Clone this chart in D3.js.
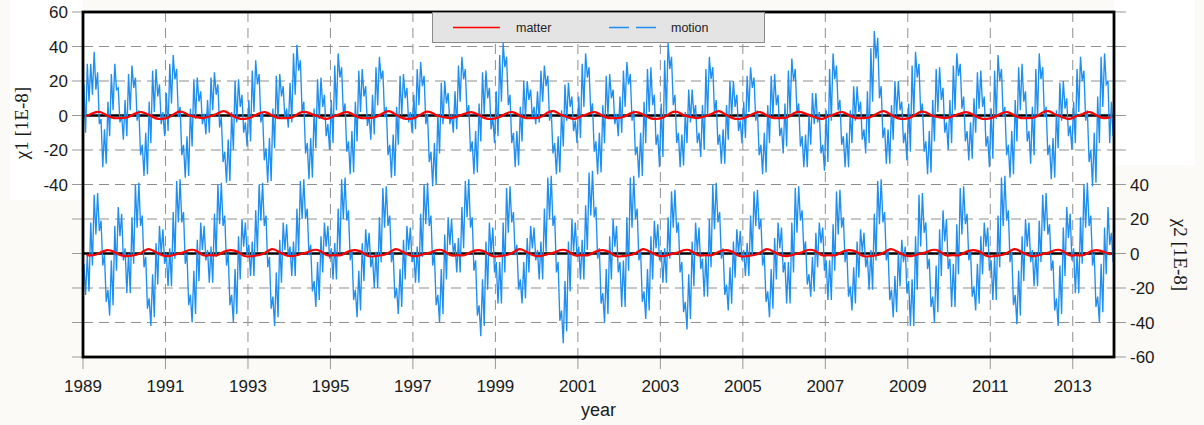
<!DOCTYPE html>
<html>
<head>
<meta charset="utf-8">
<script src="https://cdn.jsdelivr.net/npm/d3@7"></script>
<style>
  html, body { margin: 0; padding: 0; background: #fbfaf7; }
  svg { display: block; }
</style>
</head>
<body>
<svg id="chart" width="1204" height="425"></svg>
<script>
// monthly envelope of the "motion" series (max / min within each month), 1989-01 .. 2013-12
const chi1Hi = [
  18, 30, 30, 37, 25, -2, -8, 8, 24, 30, 16, 0,
  9, 24, 29, 22, 3, -17, -10, 8, 26, 27, 18, 2,
  13, 30, 35, 27, 5, -17, -12, 4, 21, 22, 14, 1,
  9, 22, 25, 18, -1, -21, -14, 2, 20, 21, 12, -4,
  9, 26, 32, 24, 2, -19, -13, 4, 23, 24, 17, 4,
  19, 36, 41, 32, 8, -16, -13, 4, 21, 22, 12, -5,
  9, 29, 36, 28, 7, -15, -9, 8, 26, 27, 17, 0,
  12, 28, 34, 26, 5, -17, -11, 5, 23, 24, 16, 2,
  12, 27, 31, 23, 1, -21, -16, 1, 19, 20, 13, 1,
  14, 29, 34, 27, 6, -15, -9, 7, 25, 26, 16, -1,
  14, 35, 42, 34, 12, -10, -9, 5, 20, 20, 15, 5,
  14, 26, 29, 23, 3, -16, -12, 3, 18, 19, 11, -3,
  11, 30, 36, 28, 7, -15, -10, 6, 23, 24, 15, 1,
  11, 26, 31, 24, 3, -18, -10, 8, 27, 28, 12, -11,
  7, 32, 42, 34, 12, -10, -11, 2, 15, 15, 6, -10,
  6, 27, 34, 28, 9, -11, -8, 6, 20, 20, 12, -3,
  8, 23, 28, 22, 3, -17, -10, 6, 23, 24, 12, -7,
  7, 26, 33, 27, 7, -12, -11, 1, 13, 13, 2, -17,
  3, 27, 36, 29, 9, -12, -10, 3, 17, 17, 8, -8,
  14, 39, 49, 45, 17, -7, -8, 6, 20, 20, 8, -10,
  7, 29, 37, 30, 7, -15, -9, 9, 27, 28, 16, -4,
  9, 29, 36, 30, 11, -9, -4, 10, 25, 26, 11, -12,
  4, 26, 35, 27, 5, -17, -9, 9, 28, 30, 14, -9,
  5, 27, 36, 28, 5, -17, -13, 3, 19, 20, 10, -6,
  8, 27, 34, 26, 3, -20, -10, 11, 34, 36, 20, 8
];
const chi1Lo = [
  -10, 8, 12, 15, -5, -30, -28, -12, 3, 15, -4, -14,
  -12, 3, 16, -3, -23, -35, -34, -16, 2, 11, -5, -12,
  -9, 7, 21, -1, -23, -36, -35, -18, -2, 8, -5, -11,
  -10, 3, 12, -7, -27, -39, -38, -20, -4, 5, -10, -18,
  -15, 2, 18, -4, -26, -39, -38, -19, -2, 11, -2, -7,
  -4, 12, 26, 2, -22, -37, -36, -19, -2, 5, -12, -20,
  -16, 3, 22, 1, -21, -34, -33, -15, 2, 11, -6, -14,
  -11, 6, 21, -1, -23, -36, -35, -17, 0, 10, -4, -10,
  -8, 6, 17, -5, -27, -41, -40, -22, -5, 7, -5, -10,
  -8, 8, 21, 0, -21, -34, -33, -15, 1, 10, -8, -16,
  -12, 8, 28, 6, -16, -30, -29, -15, -1, 9, -1, -5,
  -4, 8, 17, -3, -22, -34, -33, -18, -3, 5, -9, -16,
  -13, 5, 22, 1, -21, -34, -33, -16, 0, 10, -5, -12,
  -10, 5, 18, -3, -23, -36, -35, -16, 2, 6, -17, -30,
  -24, 1, 27, 6, -16, -30, -29, -16, -4, 0, -16, -24,
  -20, 0, 21, 2, -17, -28, -28, -14, 0, 5, -9, -16,
  -13, 2, 16, -3, -23, -34, -33, -16, 0, 6, -12, -22,
  -18, 1, 20, 1, -18, -30, -30, -17, -5, -4, -22, -32,
  -27, -3, 21, 3, -17, -30, -30, -16, -3, 2, -14, -22,
  -16, 8, 33, 10, -13, -28, -28, -14, 0, 3, -16, -26,
  -21, 0, 22, 1, -21, -34, -33, -15, 2, 9, -10, -20,
  -16, 3, 23, 4, -15, -26, -25, -10, 4, 5, -18, -30,
  -25, -2, 20, -1, -23, -36, -34, -15, 3, 8, -15, -28,
  -23, -1, 21, -1, -23, -37, -36, -19, -3, 4, -12, -20,
  -16, 2, 20, -3, -27, -41, -39, -16, 5, 18, -16, -12
];
const chi2Hi = [
  -6, -1, 18, 34, 35, 19, -1, -21, -4, 16, 27, 23,
  3, 0, 21, 40, 41, 22, -2, -26, -12, 6, 16, 14,
  0, 3, 24, 42, 43, 24, 0, -24, -10, 8, 18, 16,
  2, 4, 23, 40, 41, 22, 0, -24, -9, 10, 20, 18,
  5, 7, 25, 40, 41, 22, -2, -25, -11, 8, 18, 17,
  4, 7, 26, 42, 43, 26, 5, -16, -5, 10, 18, 16,
  3, 6, 26, 43, 44, 25, 2, -21, -10, 6, 14, 12,
  -2, 1, 21, 38, 39, 22, 1, -20, -9, 8, 16, 15,
  1, 4, 23, 40, 41, 22, 0, -24, -9, 11, 21, 20,
  6, 9, 27, 42, 43, 21, -4, -30, -15, 7, 18, 15,
  -5, -5, 18, 38, 39, 24, 5, -15, -5, 9, 16, 15,
  2, 7, 26, 44, 45, 22, -5, -33, -16, 7, 20, 18,
  4, 8, 28, 47, 48, 27, 3, -23, -9, 10, 20, 16,
  -5, -4, 21, 44, 45, 26, 2, -22, -9, 10, 19, 17,
  2, 3, 21, 36, 37, 18, -5, -28, -12, 7, 18, 15,
  -3, -1, 20, 40, 41, 24, 3, -18, -8, 7, 14, 13,
  2, 6, 22, 36, 37, 20, -1, -22, -9, 9, 18, 15,
  -5, -5, 18, 38, 39, 25, 7, -12, -2, 12, 18, 15,
  -4, -4, 17, 36, 37, 21, 2, -19, -8, 7, 14, 12,
  -2, 2, 23, 42, 43, 24, 2, -21, -13, 1, 8, 4,
  -16, -15, 10, 34, 35, 18, -3, -25, -7, 14, 25, 20,
  -3, -6, 17, 38, 39, 23, 2, -19, -6, 10, 18, 15,
  -4, -2, 22, 44, 45, 25, 1, -24, -10, 10, 20, 18,
  2, 1, 19, 34, 35, 17, -4, -26, -7, 15, 27, 23,
  3, 0, 21, 40, 41, 22, 0, -25, -6, 15, 27, 12
];
const chi2Lo = [
  -24, -22, -7, 11, 13, -7, -28, -36, -30, -10, 10, -4,
  -23, -23, -6, 15, 16, -8, -32, -42, -37, -18, 0, -6,
  -19, -19, -3, 18, 18, -6, -30, -40, -35, -16, 2, -4,
  -17, -17, -2, 17, 16, -7, -30, -40, -35, -15, 4, -1,
  -13, -13, 1, 19, 16, -8, -32, -42, -37, -17, 2, -2,
  -13, -13, 1, 20, 20, -1, -22, -31, -27, -11, 4, -3,
  -15, -15, 0, 20, 19, -4, -27, -37, -33, -16, 0, -8,
  -20, -20, -5, 15, 16, -5, -26, -35, -31, -15, 2, -5,
  -17, -17, -2, 17, 16, -7, -30, -40, -35, -15, 5, 0,
  -11, -11, 3, 21, 15, -10, -36, -48, -42, -21, 0, -11,
  -29, -29, -11, 12, 18, -1, -21, -29, -26, -11, 3, -4,
  -15, -15, 1, 20, 16, -11, -39, -52, -45, -22, 1, -2,
  -15, -15, 2, 22, 21, -3, -29, -40, -35, -15, 4, -11,
  -31, -31, -10, 15, 20, -4, -28, -38, -33, -15, 3, -4,
  -17, -17, -3, 15, 12, -11, -34, -44, -38, -19, 1, -9,
  -25, -25, -8, 14, 18, -3, -24, -33, -29, -14, 0, -4,
  -13, -13, -1, 16, 14, -7, -28, -37, -32, -15, 3, -11,
  -29, -29, -11, 12, 19, 1, -18, -25, -22, -8, 6, -10,
  -27, -27, -10, 11, 15, -5, -25, -33, -29, -14, 1, -8,
  -21, -21, -4, 17, 18, -4, -27, -37, -34, -19, -5, -23,
  -42, -42, -21, 4, 12, -9, -31, -40, -34, -13, 7, -9,
  -31, -31, -12, 11, 17, -4, -25, -33, -29, -12, 4, -10,
  -27, -27, -8, 16, 19, -5, -30, -41, -36, -16, 4, -5,
  -19, -19, -5, 13, 11, -10, -33, -42, -35, -13, 9, -4,
  -23, -23, -6, 15, 16, -7, -31, -40, -34, -12, 5, -5
];

// "matter" series, two-monthly values
const chi1Matter = [
  -0.5, 1.5, 2, 0, -1.5, -1.5,
  -1, 1, 2, 0.5, -1.5, -2,
  -1, 1.5, 2, 0, -1, -1.5,
  -0.5, 1, 2.5, 0.5, -1.5, -2,
  -1, 1, 2, 0, -1.5, -1.5,
  -1, 1.5, 2, 0.5, -1, -2,
  -0.5, 1, 2, 0, -1.5, -1.5,
  -1, 1, 2.5, 0.5, -1.5, -2,
  -1, 1.5, 2, 0, -1, -1.5,
  -0.5, 1, 2, 0.5, -1.5, -2,
  -1, 1, 2, 0, -1.5, -1.5,
  -1, 1.5, 2.5, 0.5, -1, -2,
  -0.5, 1, 2, 0, -1.5, -1.5,
  -1, 1, 2, 0.5, -1.5, -2,
  -1, 1.5, 2, 0, -1, -1.5,
  -0.5, 1, 2.5, 0.5, -1.5, -2,
  -1, 1, 2, 0, -1.5, -1.5,
  -1, 1.5, 2, 0.5, -1, -2,
  -0.5, 1, 2, 0, -1.5, -1.5,
  -1, 1, 2.5, 0.5, -1.5, -2,
  -1, 1.5, 2, 0, -1, -1.5,
  -0.5, 1, 2, 0.5, -1.5, -2,
  -1, 1, 2, 0, -1.5, -1.5,
  -1, 1.5, 2.5, 0.5, -1, -2,
  -0.5, 1, 2, 0, -1.5, -1
];
const chi2Matter = [
  -1, -1, 0.5, 2, 1, -1,
  -1.5, -1, 0.5, 2.5, 1, -1,
  -1.5, -0.5, 0.5, 2, 1.5, -1,
  -1, -1, 1, 2, 1, -1.5,
  -1.5, -1, 0.5, 2.5, 1, -1,
  -1.5, -0.5, 0.5, 2, 1.5, -1,
  -1, -1, 1, 2, 1, -1.5,
  -1.5, -1, 0.5, 2.5, 1, -1,
  -1.5, -0.5, 0.5, 2, 1.5, -1,
  -1, -1, 1, 2, 1, -1.5,
  -1.5, -1, 0.5, 2.5, 1, -1,
  -1.5, -0.5, 0.5, 2, 1.5, -1,
  -1, -1, 1, 2, 1, -1.5,
  -1.5, -1, 0.5, 2.5, 1, -1,
  -1.5, -0.5, 0.5, 2, 1.5, -1,
  -1, -1, 1, 2, 1, -1.5,
  -1.5, -1, 0.5, 2.5, 1, -1,
  -1.5, -0.5, 0.5, 2, 1.5, -1,
  -1, -1, 1, 2, 1, -1.5,
  -1.5, -1, 0.5, 2.5, 1, -1,
  -1.5, -0.5, 0.5, 2, 1.5, -1,
  -1, -1, 1, 2, 1, -1.5,
  -1.5, -1, 0.5, 2.5, 1, -1,
  -1.5, -0.5, 0.5, 2, 1.5, -1,
  -1, -1, 1, 2, 1, -0.5
];

const yearTicks = [1989, 1991, 1993, 1995, 1997, 1999, 2001, 2003, 2005, 2007, 2009, 2011, 2013];
const chi1Ticks = [60, 40, 20, 0, -20, -40];
const chi2Ticks = [40, 20, 0, -20, -40, -60];

const svg = d3.select("#chart");
const plotLeft = 83, plotRight = 1114, plotTop = 12, plotBottom = 357;

const x = d3.scaleLinear().domain([1989, 2014]).range([plotLeft, plotRight]);
const y1 = d3.scaleLinear().domain([-140, 60]).range([plotBottom, plotTop]);
const y2 = d3.scaleLinear().domain([-60, 140]).range([plotBottom, plotTop]);

// white patches behind the axis labels
svg.append("rect").attr("x", 10).attr("y", 0).attr("width", plotLeft - 10).attr("height", 200).attr("fill", "#fff");
svg.append("rect").attr("x", plotRight).attr("y", 0).attr("width", 81).attr("height", 165).attr("fill", "#fff");
svg.append("rect")
  .attr("x", plotLeft).attr("y", plotTop)
  .attr("width", plotRight - plotLeft).attr("height", plotBottom - plotTop)
  .attr("fill", "#fff");

// grid
const gridLevels = d3.range(-120, 60, 20);
svg.append("g").selectAll("line")
  .data(gridLevels)
  .enter().append("line")
  .attr("x1", plotLeft).attr("x2", plotRight)
  .attr("y1", (d) => y1(d)).attr("y2", (d) => y1(d))
  .attr("stroke", "#8f8f8f").attr("stroke-width", 1)
  .attr("stroke-dasharray", "10,6");
svg.append("g").selectAll("line")
  .data(yearTicks.slice(1))
  .enter().append("line")
  .attr("x1", (d) => x(d)).attr("x2", (d) => x(d))
  .attr("y1", plotTop).attr("y2", plotBottom)
  .attr("stroke", "#8f8f8f").attr("stroke-width", 1)
  .attr("stroke-dasharray", "10,6");

// tick marks outside frame
const allLevels = d3.range(-140, 61, 20);
svg.append("g").selectAll("line")
  .data(allLevels)
  .enter().append("line")
  .attr("x1", plotLeft - 11).attr("x2", plotLeft)
  .attr("y1", (d) => y1(d)).attr("y2", (d) => y1(d))
  .attr("stroke", "#999");
svg.append("g").selectAll("line")
  .data(allLevels)
  .enter().append("line")
  .attr("x1", plotRight).attr("x2", plotRight + 12)
  .attr("y1", (d) => y1(d)).attr("y2", (d) => y1(d))
  .attr("stroke", "#999");
svg.append("g").selectAll("line")
  .data(yearTicks)
  .enter().append("line")
  .attr("x1", (d) => x(d)).attr("x2", (d) => x(d))
  .attr("y1", plotBottom).attr("y2", plotBottom + 12)
  .attr("stroke", "#999");

svg.append("clipPath").attr("id", "clip")
  .append("rect")
  .attr("x", plotLeft).attr("y", plotTop)
  .attr("width", plotRight - plotLeft).attr("height", plotBottom - plotTop);
const plot = svg.append("g").attr("clip-path", "url(#clip)");

// zero lines
[y1(0), y2(0)].forEach(function (yy) {
  plot.append("line")
    .attr("x1", plotLeft).attr("x2", plotRight)
    .attr("y1", yy).attr("y2", yy)
    .attr("stroke", "#000").attr("stroke-width", 2.6);
});

function envelope(hi, lo) {
  const pts = [];
  hi.forEach(function (h, i) {
    const t = 1989 + i / 12;
    pts.push([t + 0.25 / 12, h]);
    pts.push([t + 0.75 / 12, lo[i]]);
  });
  return pts;
}

const motion1 = d3.line().x((d) => x(d[0])).y((d) => y1(d[1]));
const motion2 = d3.line().x((d) => x(d[0])).y((d) => y2(d[1]));

plot.append("path")
  .attr("d", motion1(envelope(chi1Hi, chi1Lo)))
  .attr("fill", "none").attr("stroke", "#1e8ef0").attr("stroke-width", 1.35)
  .attr("stroke-linejoin", "miter");
plot.append("path")
  .attr("d", motion2(envelope(chi2Hi, chi2Lo)))
  .attr("fill", "none").attr("stroke", "#1e8ef0").attr("stroke-width", 1.35)
  .attr("stroke-linejoin", "miter");

const matter1 = d3.line().curve(d3.curveNatural)
  .x((d, i) => x(1989 + (i + 0.5) / 6)).y((d) => y1(d));
const matter2 = d3.line().curve(d3.curveNatural)
  .x((d, i) => x(1989 + (i + 0.5) / 6)).y((d) => y2(d));

plot.append("path").attr("d", matter1(chi1Matter))
  .attr("fill", "none").attr("stroke", "#f00").attr("stroke-width", 2.2);
plot.append("path").attr("d", matter2(chi2Matter))
  .attr("fill", "none").attr("stroke", "#f00").attr("stroke-width", 2.2);

// frame
svg.append("rect")
  .attr("x", plotLeft).attr("y", plotTop)
  .attr("width", plotRight - plotLeft).attr("height", plotBottom - plotTop)
  .attr("fill", "none").attr("stroke", "#000").attr("stroke-width", 2.8);

// tick labels
const labelFont = "'Liberation Sans', Arial, sans-serif";
svg.append("g").selectAll("text")
  .data(chi1Ticks)
  .enter().append("text")
  .attr("x", 68).attr("y", (d) => y1(d) + 6)
  .attr("text-anchor", "end")
  .attr("font-family", labelFont).attr("font-size", 17).attr("fill", "#1a1a1a")
  .text((d) => d);
svg.append("g").selectAll("text")
  .data(chi2Ticks)
  .enter().append("text")
  .attr("x", 1130).attr("y", (d) => y2(d) + 6)
  .attr("font-family", labelFont).attr("font-size", 17).attr("fill", "#1a1a1a")
  .text((d) => d);
svg.append("g").selectAll("text")
  .data(yearTicks)
  .enter().append("text")
  .attr("x", (d) => x(d)).attr("y", 392)
  .attr("text-anchor", "middle")
  .attr("font-family", labelFont).attr("font-size", 17).attr("fill", "#1a1a1a")
  .text((d) => d);

svg.append("text")
  .attr("x", (plotLeft + plotRight) / 2).attr("y", 416)
  .attr("text-anchor", "middle")
  .attr("font-family", labelFont).attr("font-size", 18).attr("fill", "#1a1a1a")
  .text("year");

const serif = "'Liberation Serif', 'Times New Roman', serif";
svg.append("text")
  .attr("transform", "translate(28,123) rotate(-90)")
  .attr("text-anchor", "middle")
  .attr("font-family", serif).attr("font-size", 19).attr("fill", "#1a1a1a")
  .text("χ1 [1E-8]");
svg.append("text")
  .attr("transform", "translate(1174,255) rotate(90)")
  .attr("text-anchor", "middle")
  .attr("font-family", serif).attr("font-size", 19).attr("fill", "#1a1a1a")
  .text("χ2 [1E-8]");

// legend
const legend = svg.append("g");
legend.append("rect")
  .attr("x", 432.5).attr("y", 12.5).attr("width", 332).attr("height", 30)
  .attr("fill", "#e4e4e4").attr("stroke", "#8a8a8a");
legend.append("line")
  .attr("x1", 453).attr("x2", 500).attr("y1", 27.5).attr("y2", 27.5)
  .attr("stroke", "#f00").attr("stroke-width", 1.3);
legend.append("text")
  .attr("x", 516).attr("y", 32)
  .attr("font-family", labelFont).attr("font-size", 12.5).attr("fill", "#222")
  .text("matter");
legend.append("line")
  .attr("x1", 609).attr("x2", 657).attr("y1", 27.5).attr("y2", 27.5)
  .attr("stroke", "#1e8ef0").attr("stroke-width", 1.3)
  .attr("stroke-dasharray", "20,7");
legend.append("text")
  .attr("x", 671).attr("y", 32)
  .attr("font-family", labelFont).attr("font-size", 12.5).attr("fill", "#222")
  .text("motion");
</script>
</body>
</html>
